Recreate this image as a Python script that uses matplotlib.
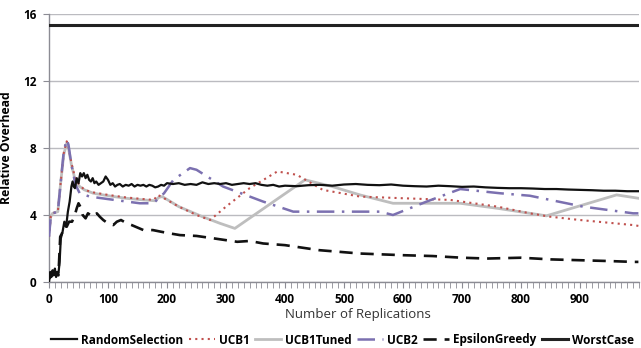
import matplotlib
matplotlib.use("Agg")
import matplotlib.pyplot as plt
from matplotlib.ticker import MultipleLocator

plt.rcParams["font.family"] = ["Open Sans", "DejaVu Sans"]

# Relative overhead per replication count, one x/y pair per policy
rand_x = [0, 2, 4, 6, 8, 10, 12, 14, 16, 18, 20, 23, 26, 29, 32, 35, 38, 40, 42, 44,
          47, 50, 53, 56, 59, 62, 65, 68, 71, 74, 77, 80, 84, 88, 92, 96, 100, 104, 108,
          112, 116, 120, 125, 130, 135, 140, 145, 150, 155, 160, 165, 170, 175, 180, 185,
          190, 195, 200, 210, 220, 230, 240, 250, 260, 270, 280, 290, 300, 310, 320, 330,
          340, 350, 360, 370, 380, 390, 400, 420, 440, 460, 480, 500, 520, 540, 560, 580,
          600, 620, 640, 660, 680, 700, 720, 740, 760, 780, 800, 820, 840, 860, 880, 900,
          920, 940, 960, 980, 999]
rand_y = [0.0, 0.6, 0.3, 0.7, 0.4, 0.8, 0.3, 0.6, 0.5, 1.2, 2.6, 3.0, 3.6, 3.3, 4.2, 4.8,
          5.7, 6.0, 5.7, 5.6, 6.2, 5.9, 6.5, 6.3, 6.5, 6.2, 6.4, 6.1, 6.0, 6.2, 5.9, 6.0,
          5.8, 5.9, 6.0, 6.3, 6.1, 5.8, 5.9, 5.7, 5.8, 5.85, 5.7, 5.8, 5.75, 5.85, 5.7, 5.8,
          5.75, 5.8, 5.7, 5.8, 5.75, 5.65, 5.7, 5.8, 5.75, 5.9, 5.85, 5.9, 5.8, 5.85, 5.8,
          5.95, 5.85, 5.9, 5.85, 5.9, 5.8, 5.85, 5.9, 5.85, 5.9, 5.8, 5.75, 5.8, 5.7, 5.75,
          5.72, 5.78, 5.8, 5.75, 5.82, 5.85, 5.8, 5.78, 5.82, 5.75, 5.72, 5.7, 5.75, 5.72,
          5.68, 5.7, 5.65, 5.62, 5.6, 5.6, 5.58, 5.55, 5.55, 5.52, 5.5, 5.48, 5.45, 5.45,
          5.42, 5.42]

ucb1_x = [0, 3, 6, 15, 20, 25, 30, 33, 38, 45, 52, 60, 75, 100, 130, 160, 178, 184, 190,
          220, 250, 273, 300, 340, 387, 420, 464, 527, 600, 680, 760, 815, 849, 900, 990, 999]
ucb1_y = [2.7, 3.9, 4.1, 4.2, 6.0, 7.7, 8.4, 8.1, 7.1, 6.1, 5.8, 5.5, 5.35, 5.2, 5.05,
          4.95, 4.9, 5.2, 5.1, 4.5, 4.0, 3.7, 4.5, 5.6, 6.6, 6.4, 5.5, 5.1, 5.0, 4.9, 4.5,
          4.1, 3.9, 3.7, 3.4, 3.35]

tuned_x = [0, 3, 6, 15, 20, 25, 30, 33, 38, 45, 52, 60, 75, 100, 130, 160, 180, 186, 192,
           220, 260, 290, 315, 434, 480, 527, 583, 697, 760, 843, 962, 999]
tuned_y = [3.0, 3.9, 4.1, 4.2, 6.0, 7.6, 8.3, 8.0, 7.0, 6.0, 5.7, 5.5, 5.3, 5.15, 5.0,
           4.9, 4.85, 5.05, 5.1, 4.5, 3.9, 3.5, 3.2, 6.1, 5.7, 5.2, 4.7, 4.7, 4.4, 3.95,
           5.2, 5.0]

ucb2_x = [0, 3, 6, 15, 20, 25, 30, 33, 38, 45, 52, 69, 100, 154, 177, 195, 211, 239, 250,
          295, 363, 414, 470, 527, 561, 583, 640, 697, 764, 815, 905, 990, 999]
ucb2_y = [2.7, 3.9, 4.1, 4.2, 6.0, 7.8, 8.5, 8.2, 7.0, 5.8, 5.3, 5.1, 4.95, 4.7, 4.7, 5.3,
          6.1, 6.8, 6.7, 5.7, 4.8, 4.2, 4.2, 4.2, 4.2, 4.0, 4.8, 5.55, 5.3, 5.15, 4.5, 4.1,
          4.1]

eps_x = [0, 8, 16, 19, 22, 26, 30, 34, 39, 43, 47, 50, 53, 57, 62, 66, 70, 75, 81, 86, 92,
         100, 109, 115, 122, 132, 140, 150, 160, 176, 190, 205, 222, 250, 280, 319, 340, 363,
         400, 458, 527, 600, 650, 700, 742, 800, 850, 900, 950, 990, 999]
eps_y = [0.2, 0.5, 0.4, 2.7, 2.9, 3.4, 3.3, 3.6, 3.6, 3.9, 4.4, 4.7, 4.5, 4.0, 3.8, 4.1,
         4.0, 3.9, 4.1, 3.9, 3.7, 3.5, 3.4, 3.6, 3.7, 3.5, 3.4, 3.25, 3.1, 3.1, 3.0, 2.9,
         2.8, 2.75, 2.6, 2.4, 2.45, 2.3, 2.2, 1.9, 1.7, 1.6, 1.55, 1.45, 1.4, 1.45, 1.35,
         1.3, 1.25, 1.2, 1.2]

worst_x = [0, 1000]
worst_y = [15.35, 15.35]

fig = plt.figure(figsize=(6.41, 3.48), dpi=100)
ax = fig.add_axes([49 / 641, 1 - 282 / 348, 590 / 641, 268 / 348])

ax.plot(rand_x, rand_y, color="#111111", lw=1.6, label="RandomSelection", zorder=5)
ax.plot(ucb1_x, ucb1_y, color="#C0504D", lw=1.5, ls=(0, (1, 2)), label="UCB1", zorder=3)
ax.plot(tuned_x, tuned_y, color="#BEBEBE", lw=2.0, label="UCB1Tuned", zorder=2)
ax.plot(ucb2_x, ucb2_y, color="#7B70B0", lw=1.8, ls=(0, (7, 3, 1, 3)), label="UCB2", zorder=4)
ax.plot(eps_x, eps_y, color="#111111", lw=1.9, ls=(0, (5, 3)), label="EpsilonGreedy", zorder=4)
ax.plot(worst_x, worst_y, color="#222222", lw=2.2, label="WorstCase", zorder=4)

ax.set_xlim(0, 1000)
ax.set_ylim(0, 16)
ax.set_yticks([0, 4, 8, 12, 16])
ax.set_xticks(range(0, 1000, 100))
ax.xaxis.set_minor_locator(MultipleLocator(10))
ax.grid(axis="y", color="#BBBBC0", lw=1.0)
ax.set_axisbelow(True)

for side in ("top", "right"):
    ax.spines[side].set_visible(False)
for side in ("left", "bottom"):
    ax.spines[side].set_color("#8C8C94")
    ax.spines[side].set_linewidth(1.0)

ax.tick_params(axis="x", which="both", direction="out", length=4, color="#8C8C94",
               labelsize=8.5, pad=4)
ax.tick_params(axis="y", direction="out", length=4, color="#8C8C94", labelsize=8.5, pad=5)
for lab in ax.get_xticklabels() + ax.get_yticklabels():
    lab.set_fontweight("bold")

ax.set_ylabel("Relative Overhead", fontsize=8.8, fontweight="bold")
ax.yaxis.set_label_coords(-(49 - 13) / 590, 0.5)
ax.set_xlabel("Number of Replications", fontsize=9.5, color="#333333")
ax.xaxis.set_label_coords((358 - 49) / 590, -(308 - 282) / 268)

fig.legend(loc="center", bbox_to_anchor=(342.5 / 641, 1 - 340 / 348), ncol=6, frameon=False,
           prop={"weight": "bold", "size": 8.5}, handlelength=2.2, handletextpad=0.3,
           columnspacing=0.5, borderaxespad=0)

fig.savefig("out.png", dpi=100)
